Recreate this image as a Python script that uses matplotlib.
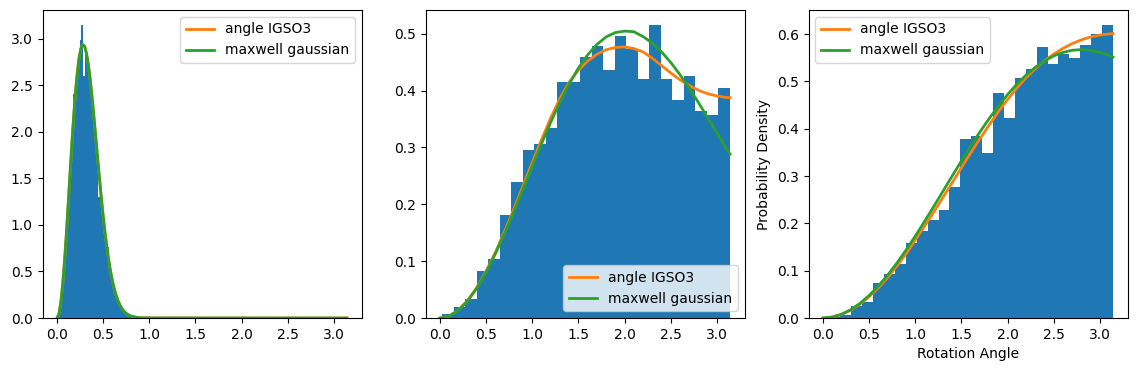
import matplotlib

matplotlib.use("Agg")
import matplotlib.pyplot as plt
import numpy as np

PI = 3.1416

# histogram bin heights (density)
narrow_start, narrow_stop = 0.005, 0.93
narrow_hist = [0.02, 0.10, 0.26, 0.44, 0.70, 0.99, 1.27, 1.60, 1.88, 2.41,
               2.40, 2.60, 2.78, 2.99, 3.15, 2.60, 2.90, 2.78, 2.66, 2.50,
               2.33, 2.14, 1.93, 1.86, 1.30, 1.33, 1.14, 0.98, 0.82, 0.76,
               0.56, 0.46, 0.37, 0.30, 0.23, 0.18, 0.14, 0.11, 0.08, 0.06,
               0.05, 0.03, 0.025, 0.017, 0.012, 0.008, 0.006, 0.004, 0.003, 0.002]

mid_start, mid_stop = 0.025, PI
mid_hist = [0.0075, 0.019, 0.034, 0.083, 0.104, 0.181, 0.239, 0.295, 0.306, 0.334,
            0.416, 0.415, 0.459, 0.479, 0.437, 0.496, 0.474, 0.420, 0.516, 0.421,
            0.383, 0.425, 0.365, 0.357, 0.404]

wide_start, wide_stop = 0.07, PI
wide_hist = [0.003, 0.006, 0.025, 0.034, 0.074, 0.092, 0.114, 0.159, 0.184, 0.208,
             0.229, 0.276, 0.378, 0.385, 0.348, 0.476, 0.422, 0.507, 0.526, 0.573,
             0.536, 0.558, 0.549, 0.578, 0.600, 0.620]

# curves for the narrow case (both lie on top of each other)
narrow_x = [0.00, 0.02, 0.04, 0.06, 0.08, 0.10, 0.12, 0.14, 0.16, 0.18,
            0.20, 0.22, 0.24, 0.26, 0.28, 0.30, 0.32, 0.34, 0.36, 0.38,
            0.40, 0.42, 0.44, 0.46, 0.48, 0.50, 0.52, 0.54, 0.56, 0.58,
            0.60, 0.62, 0.64, 0.66, 0.68, 0.70, 0.72, 0.74, 0.76, 0.78,
            0.80, 0.85, 0.90, 1.0, 1.5, 2.0, 2.5, 3.0, PI]
narrow_curve = [0.0, 0.040, 0.156, 0.343, 0.589, 0.880, 1.200, 1.530, 1.854, 2.156,
                2.420, 2.636, 2.797, 2.897, 2.935, 2.915, 2.839, 2.718, 2.558, 2.369,
                2.160, 1.941, 1.717, 1.499, 1.290, 1.096, 0.918, 0.760, 0.621, 0.501,
                0.399, 0.314, 0.244, 0.188, 0.143, 0.107, 0.079, 0.058, 0.042, 0.030,
                0.021, 0.009, 0.003, 0.0004, 0.0, 0.0, 0.0, 0.0, 0.0]

curve_x = [round(0.1 * i, 1) for i in range(32)] + [PI]

mid_igso3 = [0.0, 0.0035, 0.0140, 0.0310, 0.0540, 0.0826, 0.1157, 0.1524, 0.1918, 0.2326,
             0.2736, 0.3138, 0.3520, 0.3865, 0.4150, 0.4360, 0.4520, 0.4640, 0.4718, 0.4760,
             0.4768, 0.4740, 0.4680, 0.4570, 0.4440, 0.4310, 0.4190, 0.4090, 0.4005, 0.3945,
             0.3905, 0.3880, 0.3875]
mid_maxwell = [0.0, 0.0034, 0.0136, 0.0302, 0.0527, 0.0806, 0.1129, 0.1487, 0.1871, 0.2269,
               0.2671, 0.3067, 0.3446, 0.3801, 0.4119, 0.4398, 0.4630, 0.4812, 0.4945, 0.5021,
               0.5047, 0.5036, 0.4950, 0.4835, 0.4681, 0.4495, 0.4280, 0.4043, 0.3788, 0.3523,
               0.3254, 0.2980, 0.2882]

wide_igso3 = [0.0, 0.0019, 0.0074, 0.0165, 0.0291, 0.0450, 0.0639, 0.0855, 0.1095, 0.1356,
              0.1650, 0.1940, 0.2240, 0.2550, 0.2860, 0.3180, 0.3490, 0.3790, 0.4080, 0.4360,
              0.4620, 0.4860, 0.5080, 0.5270, 0.5440, 0.5580, 0.5700, 0.5800, 0.5880, 0.5940,
              0.5980, 0.6005, 0.6010]
wide_maxwell = [0.0, 0.0020, 0.0078, 0.0175, 0.0308, 0.0476, 0.0676, 0.0905, 0.1160, 0.1437,
                0.1731, 0.2040, 0.2357, 0.2680, 0.3003, 0.3322, 0.3633, 0.3932, 0.4216, 0.4481,
                0.4724, 0.4943, 0.5135, 0.5299, 0.5434, 0.5540, 0.5614, 0.5659, 0.5673, 0.5659,
                0.5617, 0.5549, 0.5513]

panels = [
    (narrow_hist, narrow_start, narrow_stop, narrow_x, narrow_curve, narrow_curve, "upper right"),
    (mid_hist, mid_start, mid_stop, curve_x, mid_igso3, mid_maxwell, "lower right"),
    (wide_hist, wide_start, wide_stop, curve_x, wide_igso3, wide_maxwell, "upper left"),
]

fig = plt.figure(figsize=(11.36, 3.71), dpi=100)
lefts = [42.5, 425.5, 808.5]

for left, (heights, start, stop, xs, igso3, maxwell, loc) in zip(lefts, panels):
    ax = fig.add_axes([left / 1136, 53 / 371, 319 / 1136, 308 / 371])
    edges = np.linspace(start, stop, len(heights) + 1)
    ax.hist(edges[:-1], bins=edges, weights=heights, color="C0")
    ax.plot(xs, igso3, color="C1", lw=2, label="angle IGSO3")
    ax.plot(xs, maxwell, color="C2", lw=2, label="maxwell gaussian")
    ax.legend(loc=loc)

ax.set_xlabel("Rotation Angle")
ax.set_ylabel("Probability Density")

fig.savefig("out.png", dpi=100)
